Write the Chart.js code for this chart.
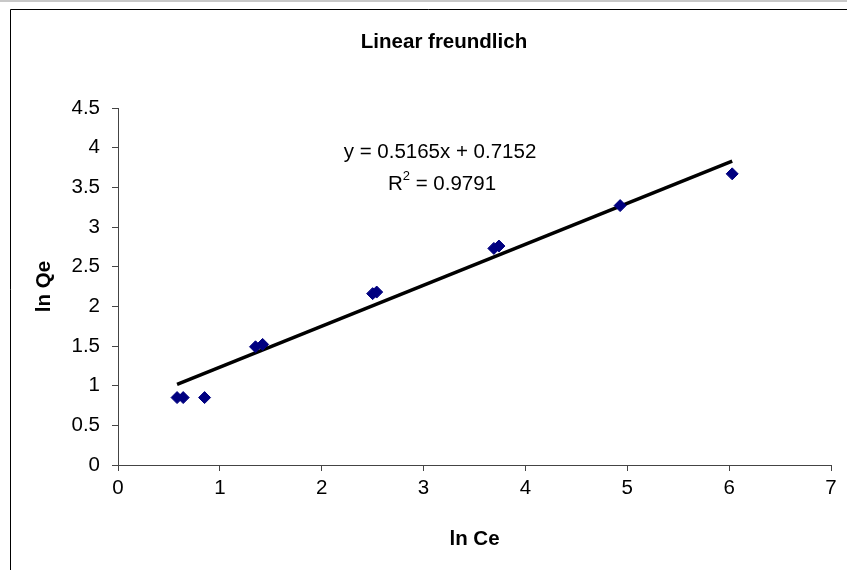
<!DOCTYPE html>
<html>
<head>
<meta charset="utf-8">
<script src="https://cdn.jsdelivr.net/npm/chart.js@4.4.1/dist/chart.umd.min.js"></script>
<style>
  html, body { margin: 0; padding: 0; background: #fff; }
  #wrap { width: 847px; height: 570px; position: relative; }
</style>
</head>
<body>
<div id="wrap"><canvas id="c" width="847" height="570"></canvas></div>
<script>
// ---- data ----
const lnCe = [0.58, 0.64, 0.85, 1.35, 1.42, 2.50, 2.54, 3.69, 3.74, 4.93, 6.03];
const lnQe = [0.85, 0.85, 0.85, 1.49, 1.52, 2.16, 2.18, 2.73, 2.76, 3.27, 3.67];
const trendSlope = 0.5165;
const trendIntercept = 0.7152;
const equationText = "y = 0.5165x + 0.7152";
const r2Base = "R";
const r2Sup = "2";
const r2Rest = " = 0.9791";
const chartTitle = "Linear freundlich";
const xTitle = "ln Ce";
const yTitle = "ln Qe";
const xTicks = [0, 1, 2, 3, 4, 5, 6, 7];
const yTicks = [0, 0.5, 1, 1.5, 2, 2.5, 3, 3.5, 4, 4.5];

const FONT = "'Liberation Sans', Arial, sans-serif";
const FS = 20.5;

const points = lnCe.map((x, i) => ({ x: x, y: lnQe[i] }));
const xMinData = Math.min(...lnCe), xMaxData = Math.max(...lnCe);
const trend = [xMinData, xMaxData].map(x => ({ x: x, y: trendSlope * x + trendIntercept }));

const decor = {
  id: 'decor',
  beforeDraw(chart) {
    const ctx = chart.ctx;
    ctx.save();
    ctx.fillStyle = '#fff';
    ctx.fillRect(0, 0, chart.width, chart.height);
    ctx.fillStyle = '#c8c8c8';
    ctx.fillRect(0, 0, chart.width, 2);
    ctx.strokeStyle = '#000';
    ctx.lineWidth = 1;
    ctx.beginPath();
    ctx.moveTo(10.5, chart.height);
    ctx.lineTo(10.5, 9.5);
    ctx.lineTo(chart.width, 9.5);
    ctx.stroke();
    ctx.restore();
  },
  afterDraw(chart) {
    const ctx = chart.ctx;
    ctx.save();
    ctx.fillStyle = '#000';
    ctx.textBaseline = 'middle';
    ctx.textAlign = 'center';
    ctx.font = "bold " + FS + "px " + FONT;
    ctx.fillText(chartTitle, 444, 42);
    ctx.font = FS + "px " + FONT;
    ctx.fillText(equationText, 440, 152);
    // R² with a true superscript
    const f = FS + "px " + FONT, fs = "13px " + FONT;
    ctx.font = f;
    const wR = ctx.measureText(r2Base).width;
    const wRest = ctx.measureText(r2Rest).width;
    ctx.font = fs;
    const wS = ctx.measureText(r2Sup).width;
    const x0 = 442 - (wR + wS + wRest) / 2;
    ctx.textAlign = 'left';
    ctx.font = f;
    ctx.fillText(r2Base, x0, 184);
    ctx.font = fs;
    ctx.fillText(r2Sup, x0 + wR, 176);
    ctx.font = f;
    ctx.fillText(r2Rest, x0 + wR + wS, 184);
    ctx.restore();
  }
};

new Chart(document.getElementById('c'), {
  type: 'scatter',
  data: {
    datasets: [
      {
        label: 'trend',
        type: 'line',
        data: trend,
        borderColor: '#000',
        borderWidth: 3.5,
        pointRadius: 0,
        fill: false,
        order: 2
      },
      {
        label: 'data',
        data: points,
        pointStyle: 'rectRot',
        pointRadius: 6,
        backgroundColor: '#000080',
        borderColor: '#000080',
        borderWidth: 1,
        order: 1
      }
    ]
  },
  options: {
    responsive: false,
    animation: false,
    devicePixelRatio: 1,
    layout: { padding: { left: 10, top: 108, right: 16, bottom: 0 } },
    plugins: {
      legend: { display: false },
      tooltip: { enabled: false },
      title: { display: false }
    },
    scales: {
      x: {
        type: 'linear',
        min: 0, max: 7,
        afterFit(s) { s.height = 105; },
        afterBuildTicks(s) { s.ticks = xTicks.map(v => ({ value: v })); },
        border: { display: true, color: '#444', width: 1 },
        grid: { drawOnChartArea: false, drawTicks: true, tickLength: 6, color: '#444' },
        ticks: { color: '#000', font: { family: FONT, size: FS }, padding: 5, maxRotation: 0, callback: v => String(v) },
        title: { display: true, text: xTitle, color: '#000', font: { family: FONT, size: FS, weight: 'bold' }, padding: { top: 0, bottom: 18 } }
      },
      y: {
        type: 'linear',
        min: 0, max: 4.5,
        afterFit(s) { s.width = 108; },
        afterBuildTicks(s) { s.ticks = yTicks.map(v => ({ value: v })); },
        border: { display: true, color: '#444', width: 1 },
        grid: { drawOnChartArea: false, drawTicks: true, tickLength: 6, color: '#444' },
        ticks: { color: '#000', font: { family: FONT, size: FS }, padding: 12, callback: v => String(v) },
        title: { display: true, text: yTitle, color: '#000', font: { family: FONT, size: FS, weight: 'bold' }, padding: { top: 22, bottom: 0 } }
      }
    }
  },
  plugins: [decor]
});
</script>
</body>
</html>
